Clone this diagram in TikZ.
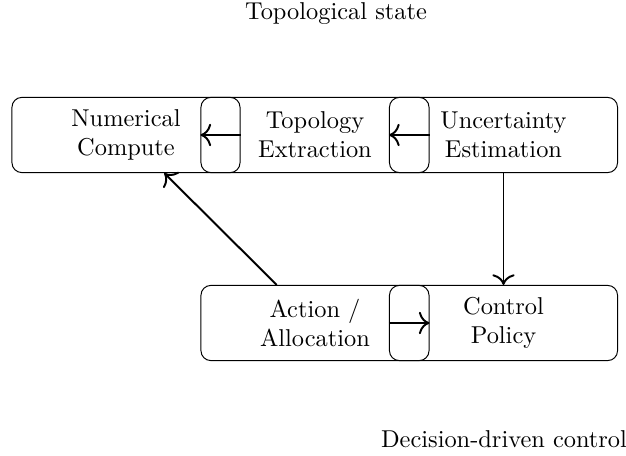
\documentclass[tikz,border=0pt]{standalone}
\usetikzlibrary{arrows.meta}
\begin{document}
\begin{tikzpicture}[x=0.41pt,y=-0.41pt,
  blk/.style={draw,rounded corners=4pt,minimum width=93.5pt,minimum height=30.8pt,inner sep=0pt,align=center,line width=0.4pt},
  conn/.style={-{To[scale=1.3]},thick}]
\useasboundingbox (0,0) rectangle (626,456);
\node[blk] (num) at (126,135) {Numerical\\Compute};
\node[blk] (topo) at (315,135) {Topology\\Extraction};
\node[blk] (unc) at (503.5,135) {Uncertainty\\Estimation};
\node[blk] (act) at (315,323) {Action /\\Allocation};
\node[blk] (ctrl) at (503.5,323) {Control\\Policy};
\node (t1) at (336,14) {Topological state};
\node (t2) at (504,439) {Decision-driven control};
\draw[conn] (num.east) -- (topo.west);
\draw[conn] (topo.east) -- (unc.west);
\draw[conn] (ctrl.west) -- (act.east);
\draw[conn] (unc) -- (ctrl);
\draw[conn] (act) -- (num);
\end{tikzpicture}
\end{document}
